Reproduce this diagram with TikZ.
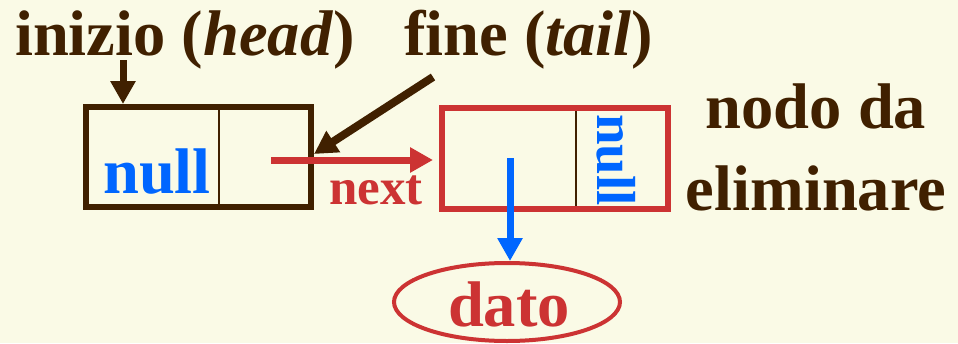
\documentclass[tikz,border=0pt]{standalone}
\usepackage{fontspec}
\setmainfont{Liberation Serif}
\usetikzlibrary{arrows.meta,shapes.geometric}
\definecolor{bg}{RGB}{250,250,230}
\definecolor{brn}{RGB}{64,32,0}
\definecolor{rd}{RGB}{204,51,51}
\definecolor{bl}{RGB}{0,102,255}
\begin{document}
\begin{tikzpicture}[x=1pt,y=-1pt,
 big/.style={font=\fontsize{64.5pt}{72pt}\selectfont\bfseries, inner sep=0pt, anchor=base west},
 small/.style={font=\fontsize{51pt}{56pt}\selectfont\bfseries, inner sep=0pt, anchor=base west},
 cell/.style={draw, line width=6pt, inner sep=0pt, rectangle},
 divider/.style={brn, line width=2pt},
 arr/.style={-{Triangle[length=23pt,width=24pt]}, line width=7pt},
]
\fill[bg] (0,0) rectangle (958,343);
\useasboundingbox (0,0) rectangle (958,343);
% boxes
\node[cell, draw=brn, minimum width=225pt, minimum height=100pt] (L) at (198.5,157) {};
\node[cell, draw=rd, minimum width=226pt, minimum height=101pt] (R) at (555,158.5) {};
\coordinate (ld) at (219,0);
\coordinate (rdv) at (576,0);
\draw[divider] ([yshift=-6pt]L.north -| ld) -- ([yshift=6pt]L.south -| ld);
\draw[divider] ([yshift=-6pt]R.north -| rdv) -- ([yshift=6pt]R.south -| rdv);
% ellipse
\node[ellipse, draw=rd, line width=4pt, minimum width=226pt, minimum height=78pt, inner sep=0pt] (E) at (507,302) {};
% texts
\node[big, text=brn] (head) at (15,55) {inizio (\textit{head})};
\node[big, text=brn] (tail) at (404,55) {fine (\textit{tail})};
\node[big, text=brn, anchor=base] (n1) at (816,128) {nodo da};
\node[big, text=brn, anchor=base] (n2) at (816,210) {eliminare};
\node[big, text=bl] (null1) at (103,193) {null};
\node[small, text=rd] (next) at (329,204) {next};
\node[small, font=\fontsize{55pt}{60pt}\selectfont\bfseries, text=bl, rotate=-90] (null2) at (597,114) {null};
\node[big, text=rd, anchor=base] (dato) at (509,326) {dato};
% arrows
\coordinate (hs) at (123,60);
\draw[arr, brn] (hs) -- (hs |- L.north);
\coordinate (ts) at (433,77);
\draw[arr, brn, line width=8pt] (ts) -- ([yshift=3pt]L.east);
\coordinate (ns) at (271,160);
\draw[arr, rd] (ns) -- ([xshift=-6pt]ns -| R.west);
\coordinate (ds) at (510,158);
\draw[arr, bl] (ds) -- (ds |- E.north);
\end{tikzpicture}
\end{document}
